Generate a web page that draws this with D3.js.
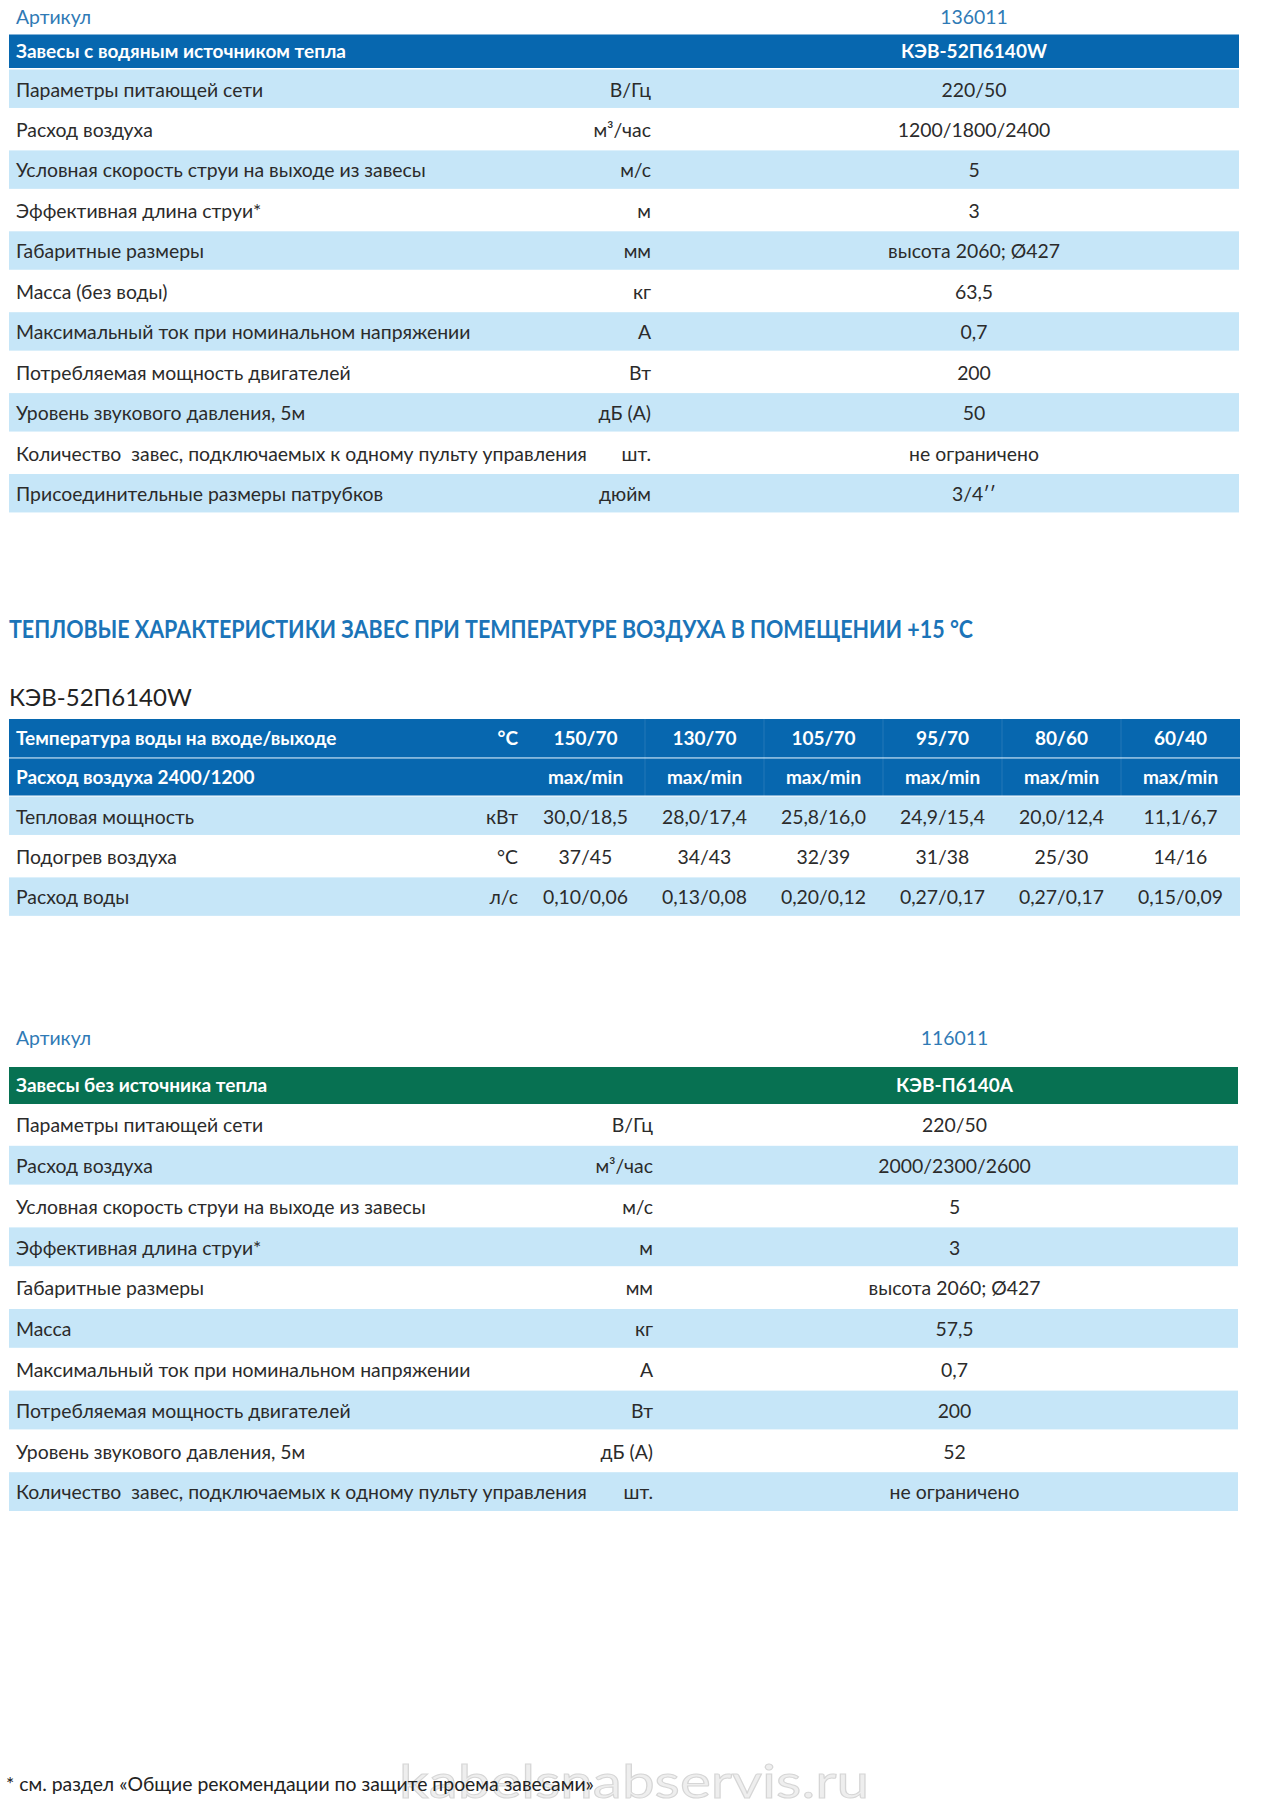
<!DOCTYPE html>
<html><head><meta charset="utf-8">
<script src="https://cdn.jsdelivr.net/npm/d3@7"></script>
<style>
html,body{margin:0;padding:0;background:#fff;}
svg{display:block;}
text{font-family:Lato,"Open Sans","Noto Sans",sans-serif;white-space:pre;}
</style></head>
<body>
<script>
// ---------- DATA ----------
const article1 = "136011";
const model1 = "КЭВ-52П6140W";
const group1 = "Завесы с водяным источником тепла";
const specLabels1 = ["Параметры питающей сети","Расход воздуха","Условная скорость струи на выходе из завесы","Эффективная длина струи*","Габаритные размеры","Масса (без воды)","Максимальный ток при номинальном напряжении","Потребляемая мощность двигателей","Уровень звукового давления, 5м","Количество  завес, подключаемых к одному пульту управления","Присоединительные размеры патрубков"];
const specUnits1 = ["В/Гц","м³/час","м/с","м","мм","кг","А","Вт","дБ (А)","шт.","дюйм"];
const specValues1 = ["220/50","1200/1800/2400","5","3","высота 2060; Ø427","63,5","0,7","200","50","не ограничено","3/4′′"];

const thermalTitle = "ТЕПЛОВЫЕ ХАРАКТЕРИСТИКИ ЗАВЕС ПРИ ТЕМПЕРАТУРЕ ВОЗДУХА В ПОМЕЩЕНИИ +15 °С";
const thermalModel = "КЭВ-52П6140W";
const waterTemps = ["150/70","130/70","105/70","95/70","80/60","60/40"];
const headerRow1 = {label:"Температура воды на входе/выходе", unit:"°С"};
const headerRow2 = {label:"Расход воздуха 2400/1200", value:"max/min"};
const thermalLabels = ["Тепловая мощность","Подогрев воздуха","Расход воды"];
const thermalUnits = ["кВт","°С","л/с"];
const heatPower = ["30,0/18,5","28,0/17,4","25,8/16,0","24,9/15,4","20,0/12,4","11,1/6,7"];
const airHeating = ["37/45","34/43","32/39","31/38","25/30","14/16"];
const waterFlow = ["0,10/0,06","0,13/0,08","0,20/0,12","0,27/0,17","0,27/0,17","0,15/0,09"];

const article2 = "116011";
const model2 = "КЭВ-П6140А";
const group2 = "Завесы без источника тепла";
const specLabels2 = ["Параметры питающей сети","Расход воздуха","Условная скорость струи на выходе из завесы","Эффективная длина струи*","Габаритные размеры","Масса","Максимальный ток при номинальном напряжении","Потребляемая мощность двигателей","Уровень звукового давления, 5м","Количество  завес, подключаемых к одному пульту управления"];
const specUnits2 = ["В/Гц","м³/час","м/с","м","мм","кг","А","Вт","дБ (А)","шт."];
const specValues2 = ["220/50","2000/2300/2600","5","3","высота 2060; Ø427","57,5","0,7","200","52","не ограничено"];

const footnote = "* см. раздел «Общие рекомендации по защите проема завесами»";
const watermark = "kabelsnabservis.ru";

// ---------- STYLE ----------
const W = 1270, H = 1812;
const BLUE = "#0767af", GREEN = "#077152", LIGHT = "#c6e6f8", TXT = "#2b2b2b", ART = "#2f7ab5";
const FS = 19.4;

const svg = d3.select("body").append("svg").attr("width", W).attr("height", H);
svg.append("rect").attr("width", W).attr("height", H).attr("fill", "#fff");

function specTable(g, o) {
  const n = o.labels.length;
  const y = d3.scaleBand().domain(d3.range(n)).range([o.rowTop, o.rowTop + n * o.pitch]).paddingInner(0).paddingOuter(0);
  g.append("text").attr("x", 16).attr("y", o.artY).attr("dy", "0.35em").attr("fill", ART).attr("font-size", FS).text("Артикул");
  g.append("text").attr("x", o.valX).attr("y", o.artY).attr("dy", "0.35em").attr("text-anchor", "middle").attr("fill", ART).attr("font-size", FS).text(o.article);
  g.append("rect").attr("x", 9).attr("y", o.headTop).attr("width", o.right - 9).attr("height", o.headBot - o.headTop).attr("fill", o.color);
  const hc = (o.headTop + o.headBot) / 2;
  g.append("text").attr("x", 16).attr("y", hc).attr("dy", "0.35em").attr("fill", "#fff").attr("font-weight", "bold").attr("font-size", 19).text(o.group);
  g.append("text").attr("x", o.valX).attr("y", hc).attr("dy", "0.35em").attr("text-anchor", "middle").attr("fill", "#fff").attr("font-weight", "bold").attr("font-size", 19).text(o.model);
  const rows = g.selectAll("g.row").data(d3.range(n)).join("g").attr("class", "row").attr("transform", i => `translate(0,${y(i)})`);
  rows.filter(i => (i % 2 === 1) === o.lightOdd).append("rect").attr("x", 9).attr("y", 0).attr("width", o.right - 9).attr("height", y.bandwidth() - 2).attr("fill", LIGHT);
  const cy = (y.bandwidth() - 2) / 2 + 1;
  rows.append("text").attr("x", 16).attr("y", cy).attr("dy", "0.35em").attr("fill", TXT).attr("font-size", FS).text(i => o.labels[i]);
  rows.append("text").attr("x", o.unitX).attr("y", cy).attr("dy", "0.35em").attr("text-anchor", "end").attr("fill", TXT).attr("font-size", FS).text(i => o.units[i]);
  rows.append("text").attr("x", o.valX).attr("y", cy).attr("dy", "0.35em").attr("text-anchor", "middle").attr("fill", TXT).attr("font-size", FS).text(i => o.values[i]);
}

// Table 1
specTable(svg.append("g"), {artY: 17, headTop: 34.5, headBot: 68, rowTop: 69.5, pitch: 40.45, right: 1239, valX: 974, unitX: 651,
  labels: specLabels1, units: specUnits1, values: specValues1, color: BLUE, group: group1, model: model1, article: article1, lightOdd: false});

// Title
svg.append("text").attr("x", 9).attr("y", 629).attr("dy", "0.36em").attr("fill", "#1b74b8")
  .attr("font-family", "'Liberation Sans Narrow','DejaVu Sans Condensed',sans-serif").attr("font-weight", "bold").attr("font-size", 25)
  .attr("textLength", 964).attr("lengthAdjust", "spacingAndGlyphs").text(thermalTitle);
svg.append("text").attr("x", 9).attr("y", 697).attr("dy", "0.36em").attr("fill", "#222").attr("font-size", 24).text(thermalModel);

// Thermal table
const tg = svg.append("g");
const colX = d3.scaleBand().domain(waterTemps).range([526, 1240]);
const cc = d => colX(d) + colX.bandwidth() / 2;
const unitXT = 518;
tg.append("rect").attr("x", 9).attr("y", 719).attr("width", 1231).attr("height", 38).attr("fill", BLUE);
tg.append("rect").attr("x", 9).attr("y", 758.5).attr("width", 1231).attr("height", 37).attr("fill", BLUE);
tg.append("line").attr("x1", 9).attr("x2", 1240).attr("y1", 757.8).attr("y2", 757.8).attr("stroke", "#5b9fd2").attr("stroke-width", 1.2);
const h1c = 738, h2c = 777;
tg.append("text").attr("x", 16).attr("y", h1c).attr("dy", "0.35em").attr("fill", "#fff").attr("font-weight", "bold").attr("font-size", 19).text(headerRow1.label);
tg.append("text").attr("x", unitXT).attr("y", h1c).attr("dy", "0.35em").attr("text-anchor", "end").attr("fill", "#fff").attr("font-weight", "bold").attr("font-size", 19).text(headerRow1.unit);
tg.selectAll("text.temp").data(waterTemps).join("text").attr("class", "temp").attr("x", cc).attr("y", h1c).attr("dy", "0.35em").attr("text-anchor", "middle").attr("fill", "#fff").attr("font-weight", "bold").attr("font-size", 19).text(d => d);
tg.append("text").attr("x", 16).attr("y", h2c).attr("dy", "0.35em").attr("fill", "#fff").attr("font-weight", "bold").attr("font-size", 19).text(headerRow2.label);
tg.selectAll("text.mm").data(waterTemps).join("text").attr("class", "mm").attr("x", cc).attr("y", h2c).attr("dy", "0.35em").attr("text-anchor", "middle").attr("fill", "#fff").attr("font-weight", "bold").attr("font-size", 19).text(headerRow2.value);
const tRows = [heatPower, airHeating, waterFlow];
const ty = d3.scaleBand().domain(d3.range(3)).range([796.5, 796.5 + 3 * 40.45]);
const tr = tg.selectAll("g.trow").data(d3.range(3)).join("g").attr("class", "trow").attr("transform", i => `translate(0,${ty(i)})`);
tr.filter(i => i % 2 === 0).append("rect").attr("x", 9).attr("y", 0).attr("width", 1231).attr("height", ty.bandwidth() - 2).attr("fill", LIGHT);
const tcy = (ty.bandwidth() - 2) / 2 + 1;
tr.append("text").attr("x", 16).attr("y", tcy).attr("dy", "0.35em").attr("fill", TXT).attr("font-size", FS).text(i => thermalLabels[i]);
tr.append("text").attr("x", unitXT).attr("y", tcy).attr("dy", "0.35em").attr("text-anchor", "end").attr("fill", TXT).attr("font-size", FS).text(i => thermalUnits[i]);
tr.each(function(i) {
  d3.select(this).selectAll("text.v").data(tRows[i].map((v, k) => ({v, k}))).join("text").attr("class", "v")
    .attr("x", d => cc(waterTemps[d.k])).attr("y", tcy).attr("dy", "0.35em").attr("text-anchor", "middle").attr("fill", TXT).attr("font-size", FS).text(d => d.v);
});
tg.selectAll("line.sep").data(waterTemps.slice(1)).join("line").attr("class", "sep")
  .attr("x1", d => colX(d)).attr("x2", d => colX(d)).attr("y1", 719).attr("y2", 796).attr("stroke", "#ffffff").attr("stroke-opacity", 0.12);

// Table 3
specTable(svg.append("g"), {artY: 1038, headTop: 1067, headBot: 1104, rowTop: 1105, pitch: 40.8, right: 1238, valX: 954.5, unitX: 653,
  labels: specLabels2, units: specUnits2, values: specValues2, color: GREEN, group: group2, model: model2, article: article2, lightOdd: true});

// Watermark & footnote
svg.append("text").attr("x", 634).attr("y", 1781).attr("dy", "0.36em").attr("text-anchor", "middle")
  .attr("font-family", "'Liberation Sans Narrow','DejaVu Sans Condensed',sans-serif").attr("font-size", 46)
  .attr("textLength", 470).attr("lengthAdjust", "spacingAndGlyphs")
  .attr("fill", "#eeeeee").attr("stroke", "#d6d6d6").attr("stroke-width", 1).text(watermark);
svg.append("text").attr("x", 6).attr("y", 1784).attr("dy", "0.35em").attr("fill", "#222").attr("font-size", 19.4).text(footnote);
</script>
</body></html>
